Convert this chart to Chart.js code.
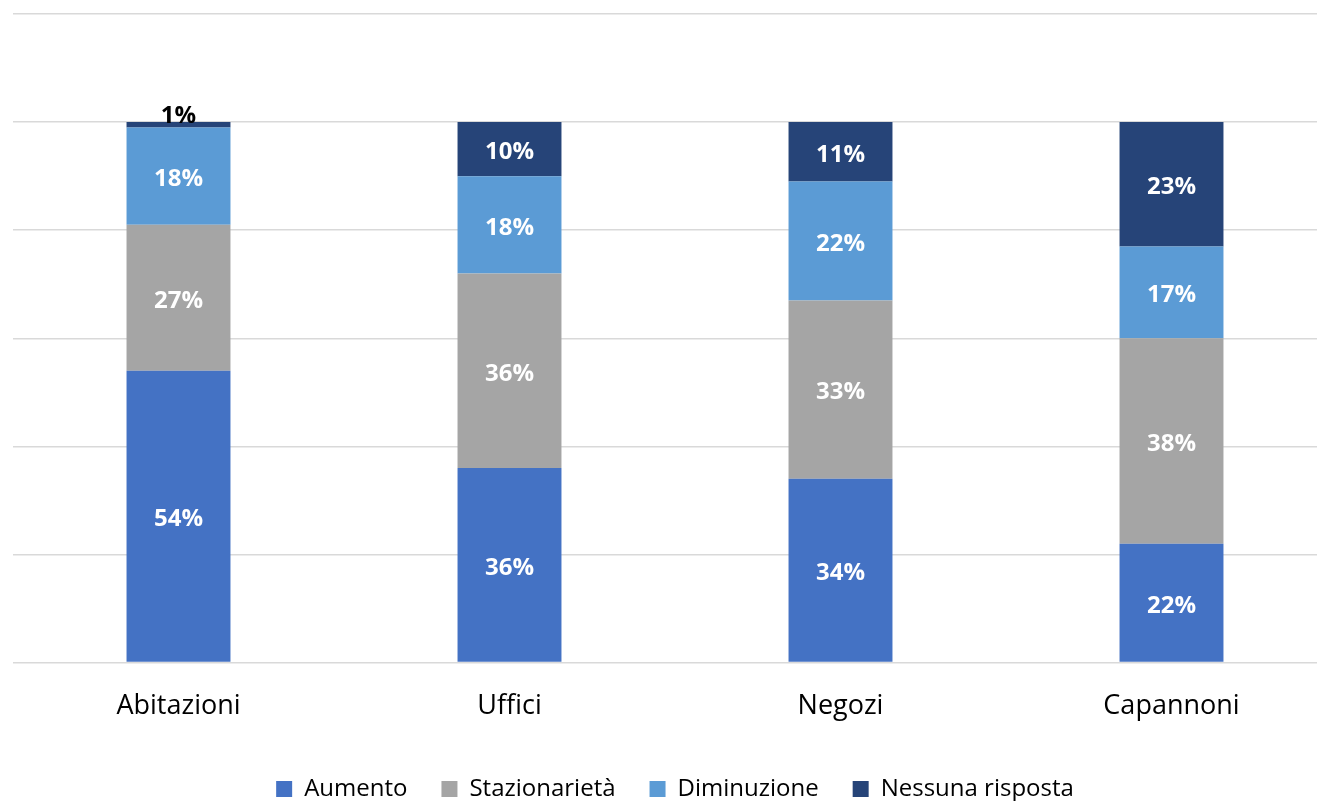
<!DOCTYPE html>
<html lang="it">
<head>
<meta charset="utf-8">
<title>Previsioni prezzi per tipologia</title>
<script src="https://cdn.jsdelivr.net/npm/chart.js@4.4.1/dist/chart.umd.min.js"></script>
<style>
  html, body { margin: 0; padding: 0; background: #ffffff; overflow: hidden; }
  #wrap { width: 1345px; height: 801px; }
  canvas { display: block; }
</style>
</head>
<body>
<div id="wrap"><canvas id="chart" width="1345" height="801"></canvas></div>
<script>
// Categorie di immobili
const categories = ['Abitazioni', 'Uffici', 'Negozi', 'Capannoni'];

// Quote percentuali delle risposte
const aumento         = [54, 36, 34, 22];
const stazionarieta   = [27, 36, 33, 38];
const diminuzione     = [18, 18, 22, 17];
const nessunaRisposta = [1, 10, 11, 23];

const seriesNames = ['Aumento', 'Stazionarietà', 'Diminuzione', 'Nessuna risposta'];
const seriesColors = ['#4472C4', '#A5A5A5', '#5B9BD5', '#264478'];
const seriesData = [aumento, stazionarieta, diminuzione, nessunaRisposta];

const FONT = '"Open Sans", "Noto Sans", sans-serif';

// Etichette dei valori: bianche al centro del segmento, nere sopra se il segmento è troppo sottile
const valueLabels = {
  id: 'valueLabels',
  afterDatasetsDraw(chart) {
    const ctx = chart.ctx;
    ctx.save();
    ctx.font = 'bold 24px ' + FONT;
    ctx.textAlign = 'center';
    chart.data.datasets.forEach((ds, di) => {
      const meta = chart.getDatasetMeta(di);
      meta.data.forEach((bar, i) => {
        const text = ds.data[i] + '%';
        const h = Math.abs(bar.base - bar.y);
        if (h < 24) {
          ctx.fillStyle = '#000000';
          ctx.textBaseline = 'alphabetic';
          ctx.fillText(text, bar.x, bar.y + 1);
        } else {
          ctx.fillStyle = '#ffffff';
          ctx.textBaseline = 'middle';
          ctx.fillText(text, bar.x, (bar.y + bar.base) / 2 + 3);
        }
      });
    });
    ctx.restore();
  }
};

// Legenda più compatta in altezza (senza il margine extra predefinito)
const tightLegend = {
  id: 'tightLegend',
  beforeInit(chart) {
    const legend = chart.legend;
    if (!legend) return;
    const fit = legend.fit;
    legend.fit = function () {
      fit.call(this);
      this.height -= 10;
    };
  }
};

new Chart(document.getElementById('chart'), {
  type: 'bar',
  data: {
    labels: categories,
    datasets: seriesData.map((d, k) => ({
      label: seriesNames[k],
      data: d,
      backgroundColor: seriesColors[k],
      borderWidth: 0,
      categoryPercentage: 1,
      barPercentage: 0.314
    }))
  },
  options: {
    responsive: false,
    animation: false,
    layout: { padding: { left: 13, right: 8, top: 14, bottom: 0 } },
    plugins: {
      tooltip: { enabled: false },
      legend: {
        position: 'bottom',
        labels: {
          boxWidth: 16,
          boxHeight: 16,
          padding: 34,
          color: '#000000',
          font: { family: FONT, size: 24 }
        }
      }
    },
    scales: {
      x: {
        stacked: true,
        grid: { display: false },
        border: { display: false },
        ticks: {
          color: '#000000',
          font: { family: FONT, size: 27 },
          padding: 20
        }
      },
      y: {
        stacked: true,
        min: 0,
        max: 120,
        ticks: { display: false, stepSize: 20 },
        grid: { color: '#d9d9d9', lineWidth: 1.5, drawTicks: false },
        border: { display: false }
      }
    }
  },
  plugins: [tightLegend, valueLabels]
});
</script>
</body>
</html>
